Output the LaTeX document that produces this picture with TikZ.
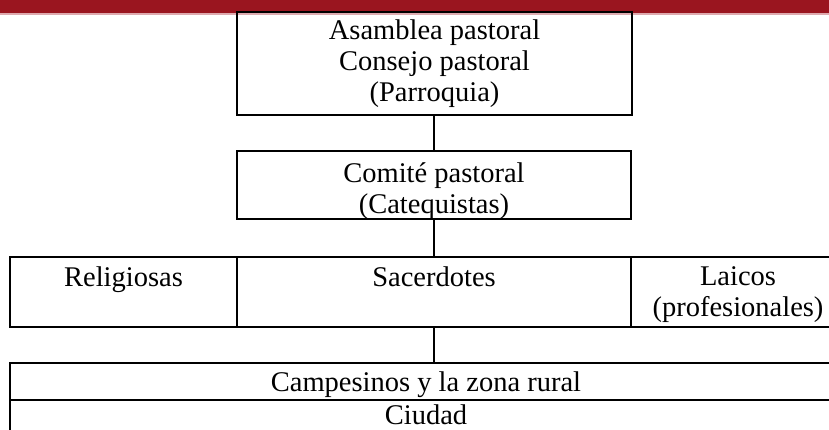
\documentclass[tikz,border=0pt]{standalone}
\usepackage{fontspec}
\setmainfont{Liberation Serif}
\definecolor{barred}{RGB}{154,21,31}
\definecolor{barpink}{RGB}{222,170,175}
\tikzset{
	cell/.style={draw, line width=2.9pt, inner sep=0pt, outer sep=0pt},
	txt/.style={font=\fontsize{28.5}{31}\selectfont, align=center, inner sep=0pt, anchor=north},
	link/.style={line width=2.5pt}
}

\begin{document}
\begin{tikzpicture}[x=1pt,y=-1pt]
	\useasboundingbox (0,0) rectangle (829,430);
	\clip (0,0) rectangle (829,430);
	% header bar
	\fill[barred] (0,0) rectangle (829,13);
	\draw[barpink, line width=1.6pt] (0,14.2) -- (829,14.2);
	% boxes
	\node[cell, minimum width=395pt, minimum height=103pt] (asamblea) at (434.5,63.5) {};
	\node[cell, minimum width=394pt, minimum height=68pt] (comite) at (434,185) {};
	\node[cell, minimum width=227pt, minimum height=70pt] (religiosas) at (123.5,292) {};
	\node[cell, minimum width=394pt, minimum height=70pt] (sacerdotes) at (434,292) {};
	\node[cell, minimum width=217pt, minimum height=70pt] (laicos) at (739.5,292) {};
	\node[cell, minimum width=838pt, minimum height=37pt] (campesinos) at (429,381.5) {};
	\node[cell, minimum width=838pt, minimum height=40pt] (ciudad) at (429,420) {};
	% texts
	\node[txt] (asambleaT) at (434.5,19.5) {Asamblea pastoral\\Consejo pastoral\\(Parroquia)};
	\node[txt] (comiteT) at (434,162) {Comité pastoral\\(Catequistas)};
	\node[txt] (religiosasT) at (123.5,266.5) {Religiosas};
	\node[txt] (sacerdotesT) at (434,266.5) {Sacerdotes};
	\node[txt] (laicosT) at (738,266.5) {Laicos\\(profesionales)};
	\node[txt] (campesinosT) at (426,371.5) {Campesinos y la zona rural};
	\node[txt] (ciudadT) at (426,404.5) {Ciudad};
	% connectors
	\draw[link] (comite.north |- asamblea.south) -- (comite.north);
	\draw[link] (comite.south) -- (sacerdotes.north);
	\draw[link] (sacerdotes.south) -- (sacerdotes.south |- campesinos.north);
\end{tikzpicture}
\end{document}
